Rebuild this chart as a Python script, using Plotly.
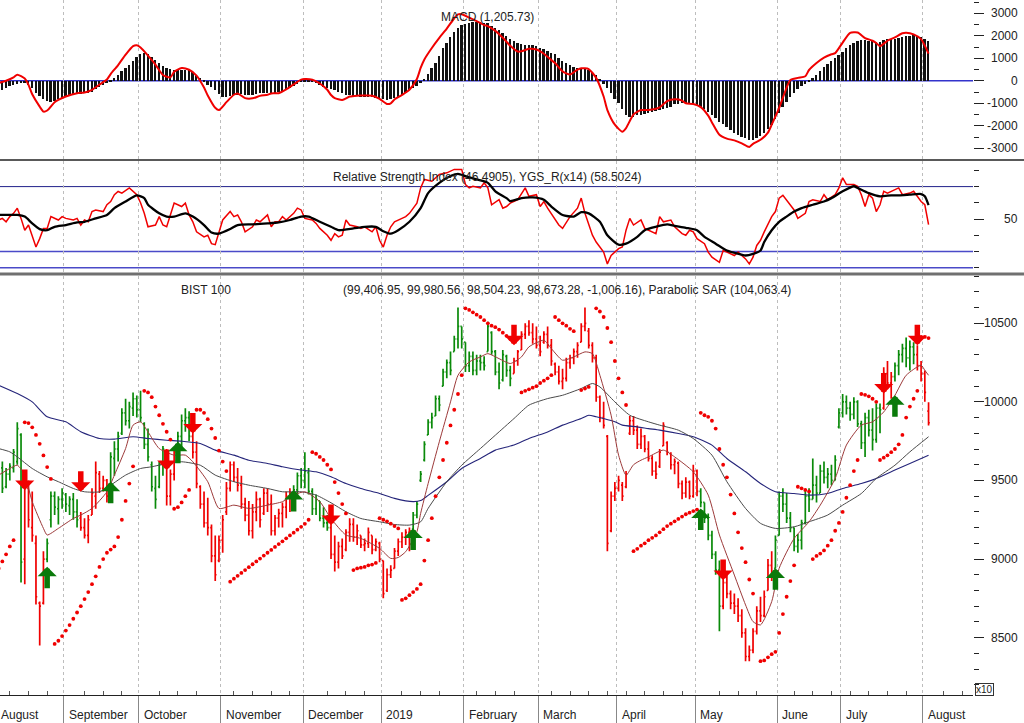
import plotly.graph_objects as go

# ---------------- data (index units = trading day number, price in x10 units) ----------------
opens = [
 9500, 9580, 9460, 9540, 9580, 9620, 9790, 9000, 9450, 9200,
 9100, 8720, 8720, 9000, 9250, 9400, 9320, 9380, 9410, 9340,
 9380, 9300, 9260, 9200, 9150, 9280, 9400, 9540, 9450, 9500,
 9460, 9640, 9700, 9800, 9930, 9880, 9960, 10020, 9950, 9860,
 9730, 9600, 9450, 9460, 9600, 9690, 9400, 9540, 9680, 9780,
 9880, 9900, 9780, 9680, 9460, 9350, 9230, 9200, 9020, 8990,
 9120, 9300, 9450, 9600, 9520, 9470, 9350, 9280, 9180, 9300,
 9380, 9290, 9420, 9350, 9180, 9260, 9290, 9330, 9400, 9420,
 9440, 9530, 9500, 9550, 9430, 9320, 9370, 9260, 9230, 9200,
 9030, 8980, 9080, 9060, 9170, 9220, 9140, 9150, 9090, 9100,
 9150, 9060, 9100, 8990, 8800, 8900, 8940, 9050, 9110, 9140,
 9170, 9190, 9280, 9500, 9630, 9790, 9870, 9910, 10020, 10100,
 10190, 10250, 10320, 10400, 10480, 10380, 10230, 10290, 10200, 10260,
 10250, 10320, 10440, 10320, 10190, 10140, 10290, 10200, 10180, 10260,
 10330, 10430, 10480, 10440, 10400, 10360, 10380, 10430, 10360, 10240,
 10190, 10130, 10150, 10250, 10280, 10320, 10380, 10480, 10450, 10360,
 10280, 10030, 9900, 9780, 9180, 9400, 9450, 9470, 9460, 9800,
 9880, 9820, 9730, 9780, 9700, 9640, 9560, 9590, 9720, 9740,
 9670, 9600, 9610, 9480, 9420, 9490, 9400, 9560, 9430, 9360,
 9260, 9150, 9030, 8930, 8700, 8850, 8780, 8720, 8700, 8640,
 8530, 8380, 8420, 8540, 8670, 8640, 8800, 8960, 8940, 9150,
 9400, 9350, 9260, 9200, 9080, 9120, 9230, 9400, 9380, 9470,
 9420, 9560, 9520, 9540, 9500, 9840, 9930, 10000, 9960, 9920,
 10000, 9860, 9740, 9900, 9820, 9760, 9960, 9960, 10180, 10120,
 10160, 10230, 10300, 10340, 10280, 10350, 10300, 10230, 10180, 9941,
]
highs = [
 9610, 9620, 9580, 9610, 9700, 9870, 9800, 9530, 9500, 9430,
 9150, 8730, 9050, 9130, 9430, 9430, 9400, 9450, 9420, 9400,
 9420, 9380, 9300, 9260, 9280, 9450, 9620, 9560, 9530, 9510,
 9680, 9750, 9810, 9960, 10020, 10000, 10060, 10040, 10070, 9870,
 9830, 9620, 9530, 9620, 9720, 9700, 9570, 9700, 9810, 9920,
 9960, 9940, 9810, 9750, 9470, 9430, 9390, 9220, 9150, 9150,
 9280, 9490, 9620, 9620, 9580, 9530, 9390, 9370, 9350, 9430,
 9390, 9450, 9450, 9410, 9280, 9320, 9360, 9430, 9450, 9470,
 9550, 9580, 9680, 9580, 9450, 9410, 9370, 9330, 9280, 9240,
 9150, 9110, 9130, 9190, 9260, 9260, 9220, 9150, 9130, 9200,
 9150, 9130, 9110, 8990, 8940, 8960, 9070, 9130, 9170, 9190,
 9200, 9300, 9370, 9560, 9750, 9890, 9930, 10040, 10040, 10210,
 10270, 10320, 10420, 10600, 10480, 10380, 10320, 10320, 10300, 10300,
 10290, 10510, 10450, 10330, 10250, 10330, 10300, 10230, 10280, 10330,
 10450, 10500, 10520, 10500, 10480, 10420, 10450, 10480, 10400, 10250,
 10230, 10210, 10280, 10300, 10340, 10380, 10500, 10600, 10470, 10380,
 10300, 10040, 10000, 9790, 9430, 9490, 9530, 9490, 9560, 9910,
 9910, 9850, 9830, 9790, 9750, 9660, 9620, 9700, 9870, 9750,
 9680, 9640, 9620, 9500, 9520, 9500, 9600, 9570, 9450, 9360,
 9290, 9180, 9050, 8990, 8880, 8900, 8800, 8780, 8750, 8680,
 8560, 8450, 8560, 8700, 8760, 8800, 9000, 9050, 9150, 9430,
 9450, 9420, 9300, 9200, 9160, 9250, 9440, 9450, 9640, 9530,
 9600, 9620, 9580, 9600, 9660, 9960, 10050, 10040, 10000, 10030,
 10010, 9880, 9930, 9950, 9960, 9990, 9990, 10220, 10260, 10190,
 10250, 10330, 10370, 10410, 10390, 10380, 10360, 10260, 10200, 9998,
]
lows = [
 9480, 9420, 9450, 9500, 9550, 9600, 8850, 8840, 9200, 9110,
 8710, 8450, 8710, 8980, 9200, 9280, 9220, 9320, 9300, 9280,
 9250, 9200, 9180, 9130, 9100, 9280, 9320, 9420, 9430, 9360,
 9450, 9530, 9620, 9790, 9850, 9830, 9910, 9900, 9870, 9700,
 9620, 9430, 9320, 9450, 9530, 9340, 9340, 9500, 9620, 9700,
 9810, 9750, 9640, 9450, 9320, 9200, 9150, 8980, 8860, 8980,
 9040, 9280, 9430, 9490, 9430, 9320, 9240, 9150, 9130, 9240,
 9200, 9280, 9300, 9150, 9150, 9200, 9200, 9260, 9300, 9320,
 9400, 9450, 9450, 9410, 9280, 9280, 9240, 9200, 9180, 9000,
 8920, 8940, 9000, 9050, 9110, 9110, 9090, 9070, 9050, 9070,
 9030, 9050, 8980, 8750, 8790, 8880, 8940, 9020, 9070, 9090,
 9050, 9190, 9260, 9490, 9620, 9790, 9830, 9910, 9940, 10100,
 10150, 10170, 10320, 10340, 10340, 10190, 10190, 10170, 10170, 10200,
 10200, 10320, 10300, 10170, 10080, 10130, 10160, 10100, 10180, 10230,
 10330, 10400, 10420, 10370, 10340, 10290, 10370, 10340, 10230, 10170,
 10110, 10080, 10130, 10210, 10240, 10280, 10380, 10450, 10340, 10250,
 10000, 9870, 9830, 9050, 9170, 9370, 9430, 9370, 9450, 9790,
 9790, 9700, 9700, 9680, 9620, 9530, 9510, 9580, 9720, 9660,
 9570, 9540, 9450, 9380, 9390, 9380, 9390, 9400, 9330, 9230,
 9120, 9000, 8900, 8540, 8680, 8750, 8680, 8650, 8600, 8500,
 8350, 8350, 8400, 8520, 8600, 8630, 8800, 8860, 8940, 9150,
 9300, 9230, 9170, 9050, 9040, 9060, 9220, 9300, 9380, 9360,
 9420, 9480, 9450, 9470, 9500, 9830, 9900, 9920, 9880, 9890,
 9840, 9700, 9650, 9780, 9690, 9740, 9800, 9950, 10080, 10020,
 10130, 10170, 10250, 10220, 10200, 10240, 10200, 10130, 10000, 9850,
]
closes = [
 9580, 9450, 9540, 9590, 9680, 9830, 8980, 9450, 9250, 9150,
 8760, 8700, 9000, 9100, 9400, 9330, 9380, 9420, 9350, 9380,
 9300, 9250, 9200, 9150, 9250, 9420, 9550, 9450, 9500, 9400,
 9650, 9700, 9780, 9930, 9880, 9970, 10020, 9950, 9900, 9730,
 9650, 9460, 9380, 9600, 9700, 9400, 9540, 9680, 9780, 9880,
 9900, 9780, 9680, 9480, 9350, 9230, 9200, 9020, 8900, 9120,
 9250, 9450, 9600, 9520, 9470, 9350, 9280, 9180, 9300, 9380,
 9250, 9420, 9350, 9180, 9260, 9290, 9330, 9400, 9420, 9440,
 9530, 9500, 9560, 9430, 9320, 9380, 9260, 9230, 9200, 9030,
 8980, 9080, 9020, 9170, 9220, 9140, 9180, 9090, 9100, 9170,
 9060, 9110, 9000, 8780, 8900, 8930, 9050, 9110, 9140, 9170,
 9180, 9280, 9350, 9540, 9730, 9870, 9900, 10020, 9980, 10190,
 10250, 10200, 10400, 10480, 10400, 10230, 10290, 10200, 10260, 10250,
 10230, 10480, 10320, 10190, 10120, 10300, 10200, 10150, 10260, 10320,
 10430, 10480, 10440, 10400, 10360, 10320, 10430, 10360, 10260, 10190,
 10130, 10150, 10250, 10280, 10320, 10360, 10480, 10500, 10360, 10280,
 10030, 9900, 9850, 9100, 9400, 9450, 9500, 9400, 9540, 9880,
 9820, 9730, 9780, 9700, 9640, 9560, 9540, 9680, 9850, 9680,
 9600, 9620, 9480, 9420, 9490, 9400, 9560, 9430, 9360, 9260,
 9150, 9030, 8930, 8700, 8850, 8780, 8720, 8700, 8640, 8530,
 8380, 8420, 8540, 8670, 8640, 8760, 8960, 8900, 9120, 9400,
 9350, 9260, 9200, 9080, 9120, 9230, 9400, 9380, 9470, 9420,
 9560, 9520, 9540, 9500, 9630, 9930, 10000, 9960, 9920, 10000,
 9860, 9740, 9900, 9820, 9760, 9960, 9950, 10180, 10120, 10160,
 10230, 10300, 10340, 10280, 10350, 10300, 10230, 10180, 10060, 9867,
]
days = list(range(len(closes)))

# signal arrows: (day, price at arrow tip)
buy_signals = [(13, 8951), (30, 9492), (48, 9746), (79, 9439), (111, 9195),
               (188, 9322), (208, 8941), (240, 10042)]
sell_signals = [(7, 9439), (22, 9428), (45, 9566), (52, 9799), (89, 9216),
                (138, 10360), (194, 8866), (237, 10053), (246, 10360)]

N = None
sar = [
 8940, 8985, 9030, 9080, 9120, N, N, 9870, 9865, 9838,
 9790, 9733, 9659, 9585, 9510, 8460, 8480, 8510, 8545, 8580,
 8620, 8660, 8700, 8745, 8790, 8840, 8890, 8950, 9000, 9040,
 9060, 9080, 9140, 9250, 9370, 9480, 9590, N, N, 10070,
 10060, 10030, 9970, 9915, 9860, 9810, 9760, 9320, 9330, 9360,
 9400, 9440, N, 9950, 9950, 9930, 9890, 9830, 9770, 9690,
 9620, 9560, 8856, 8875, 8893, 8912, 8930, 8948, 8967, 8985,
 9003, 9022, 9040, 9058, 9077, 9095, 9113, 9132, 9150, 9168,
 9187, 9205, 9224, 9250, 9680, 9670, 9650, 9630, 9600, 9570,
 9490, 9420, 9350, 9290, N, 8930, 8940, 8945, 8950, 8960,
 8965, 8975, 9260, 9250, 9240, 9225, 9210, 9195, 8740, 8750,
 8770, 8790, 8810, 8840, 8990, 9120, 9260, 9400, 9520, 9630,
 9740, 9850, 9950, 10050, 10170, 10595, 10585, 10570, 10555, 10540,
 10520, 10500, 10485, 10475, 10460, 10440, 10420, 10400, N, N,
 10060, 10070, 10080, 10090, 10100, 10120, 10135, 10150, 10170, 10540,
 10520, 10500, 10485, 10465, 10450, N, 10075, 10085, 10095, N,
 10595, 10575, 10540, 10470, 10380, 10260, 10150, 10060, 9980, N,
 9050, 9065, 9085, 9100, 9120, 9135, 9150, 9170, 9190, 9210,
 9225, 9240, 9255, 9270, 9285, 9295, 9305, 9315, 9930, 9915,
 9905, 9880, 9830, 9700, 9600, 9520, 9410, 9290, 9170, 9070,
 8980, 8870, 8780, N, 8350, 8355, 8375, 8395, 8410, 8530,
 8650, 8760, 8860, 8960, 9460, 9450, 9440, 9430, 9000, 9020,
 9035, 9055, 9085, 9120, 9180, 9230, 9300, 9390, 9470, 9560,
 9630, 10050, 10045, 10035, 10020, 10000, 9630, 9645, 9660, 9680,
 9700, 9730, 9790, 9900, 9970, 10020, 10070, 10413, 10413, 10406,
]

ma_short = [(0,9534),(3,9576),(5,9597),(7,9534),(9,9365),(12,9195),(13,9153),(16,9195),(20,9258),
 (22,9280),(25,9322),(29,9428),(31,9534),(34,9703),(36,9852),(38,9873),(40,9809),(43,9703),
 (47,9661),(50,9661),(52,9619),(56,9492),(59,9322),(63,9343),(67,9322),(72,9343),(76,9365),
 (79,9407),(82,9428),(86,9365),(89,9258),(93,9153),(97,9131),(102,9068),(105,9004),(107,9010),
 (109,9047),(112,9174),(113,9290),(115,9480),(118,9746),(121,10000),(123,10169),(126,10254),
 (129,10286),(131,10307),(134,10275),(137,10244),(140,10286),(142,10350),(146,10392),
 (148,10339),(151,10265),(154,10286),(157,10318),(159,10307),(161,10169),(164,9915),
 (166,9661),(168,9534),(170,9600),(172,9629),(174,9650),(178,9693),(181,9650),(186,9555),
 (190,9407),(193,9153),(197,8898),(200,8708),(202,8602),(204,8581),(207,8729),(209,8941),
 (213,9131),(217,9237),(220,9343),(224,9513),(227,9725),(231,9852),(234,9873),(237,9936),
 (240,10042),(243,10169),(247,10233),(248,10201),(249,10169)]
ma_mid = [(0,9703),(3,9682),(5,9650),(9,9576),(13,9523),(16,9492),(20,9449),(23,9428),(27,9428),
 (30,9470),(34,9534),(38,9576),(41,9587),(45,9608),(49,9619),(54,9597),(58,9534),(63,9492),
 (67,9470),(72,9449),(76,9428),(81,9428),(85,9407),(89,9358),(93,9301),(97,9258),(102,9237),
 (106,9220),(110,9216),(113,9237),(115,9322),(120,9492),(124,9597),(129,9703),(133,9788),
 (138,9894),(142,9979),(147,10021),(151,10042),(156,10085),(159,10117),(161,10095),
 (165,10000),(169,9915),(174,9873),(177,9852),(182,9820),(186,9767),(191,9661),(195,9492),
 (200,9322),(204,9227),(208,9195),(213,9205),(217,9237),(222,9280),(226,9343),(231,9417),
 (235,9513),(240,9597),(244,9682),(249,9778)]
ma_long = [(0,10106),(5,10053),(9,10000),(13,9905),(18,9873),(22,9810),(27,9767),(31,9763),
 (36,9778),(40,9767),(45,9756),(49,9750),(54,9735),(58,9693),(63,9661),(67,9629),(72,9608),
 (76,9587),(81,9566),(85,9555),(89,9523),(93,9481),(97,9449),(102,9417),(106,9386),(111,9365),
 (113,9372),(115,9405),(120,9492),(124,9576),(129,9640),(133,9693),(138,9725),(142,9767),
 (147,9809),(151,9852),(156,9894),(158,9915),(160,9905),(165,9873),(167,9852),(171,9841),
 (174,9830),(177,9820),(182,9799),(186,9778),(191,9725),(195,9640),(200,9555),(204,9481),
 (208,9428),(213,9417),(217,9407),(222,9417),(226,9449),(231,9481),(235,9513),(240,9566),
 (244,9608),(249,9661)]

macd_signal = [
 -480, -400, -330, -250, -180, -120, -100, -100, -180, -320,
 -520, -680, -820, -900, -920, -880, -820, -750, -700, -650,
 -620, -600, -580, -560, -540, -500, -360, -260, -170, -90,
 -30, 120, 270, 420, 570, 720, 880, 1060, 1200, 1240,
 1170, 1050, 940, 800, 680, 570, 520, 490, 495, 500,
 495, 480, 380, 250, 130, -30, -180, -290, -400, -600,
 -700, -730, -680, -630, -610, -600, -620, -630, -630, -600,
 -560, -550, -550, -550, -550, -510, -480, -390, -320, -230,
 -150, -75, -40, -30, -70, -110, -200, -260, -330, -370,
 -430, -500, -560, -610, -630, -660, -690, -700, -700, -700,
 -730, -770, -800, -830, -850, -820, -780, -720, -630, -540,
 -430, -330, -230, -100, 80, 320, 560, 790, 1120, 1440,
 1690, 1930, 2150, 2330, 2460, 2530, 2580, 2610, 2615, 2615,
 2590, 2550, 2450, 2360, 2240, 2130, 2000, 1880, 1790, 1700,
 1620, 1610, 1610, 1570, 1540, 1480, 1420, 1340, 1250, 1170,
 1000, 870, 780, 700, 600, 570, 565, 530, 490, 380,
 260, 60, -120, -330, -550, -800, -1000, -1250, -1520, -1590,
 -1590, -1540, -1510, -1480, -1450, -1400, -1350, -1300, -1250, -1190,
 -1150, -1050, -1010, -1000, -1000, -1010, -1030, -1080, -1150, -1250,
 -1370, -1500, -1660, -1820, -1940, -2050, -2180, -2300, -2400, -2480,
 -2560, -2610, -2640, -2560, -2470, -2330, -2150, -1950, -1700, -1450,
 -1150, -920, -720, -520, -350, -220, -130, -20, 120, 270,
 420, 600, 760, 880, 1000, 1140, 1300, 1470, 1580, 1690,
 1780, 1810, 1800, 1780, 1760, 1740, 1720, 1800, 1840, 1860,
 1880, 1910, 1950, 1985, 2000, 2015, 1980, 1930, 1850, 1760,
]
macd_line = [(0,-100),(2,0),(4,150),(5,270),(7,100),(8,-180),(9,-600),(11,-1150),(12,-1370),
 (13,-1320),(15,-950),(16,-850),(18,-700),(21,-550),(23,-520),(25,-400),(27,-170),(29,60),
 (30,300),(32,700),(34,1160),(36,1540),(37,1580),(38,1480),(40,1120),(42,720),(44,260),
 (46,150),(47,400),(49,570),(51,490),(53,230),(55,-300),(56,-650),(58,-1200),(59,-1300),
 (61,-950),(63,-620),(64,-560),(66,-770),(68,-780),(70,-670),(72,-620),(73,-560),(75,-550),
 (77,-380),(79,-160),(81,50),(82,75),(84,45),(86,-120),(88,-400),(89,-630),(90,-770),
 (92,-850),(94,-700),(96,-660),(97,-657),(100,-660),(102,-800),(104,-1030),(105,-1000),
 (106,-830),(108,-630),(110,-400),(112,80),(113,570),(114,950),(116,1460),(118,1910),
 (120,2320),(122,2780),(123,2950),(124,2960),(126,2810),(128,2650),(130,2480),(131,2430),
 (133,2220),(135,1910),(137,1560),(139,1300),(140,1310),(142,1420),(144,1390),(146,1200),
 (148,920),(149,790),(151,420),(153,280),(155,500),(156,560),(158,520),(160,130),(162,-700),
 (163,-1300),(165,-1950),(167,-2260),(168,-2100),(170,-1500),(172,-1300),(174,-1300),
 (177,-1180),(179,-900),(181,-820),(183,-880),(184,-1000),(186,-1030),(188,-1170),
 (190,-1550),(191,-1850),(193,-2400),(195,-2570),(197,-2650),(199,-2780),(201,-2940),
 (202,-2800),(204,-2620),(206,-2300),(207,-1950),(209,-1200),(211,-300),(212,40),(214,130),
 (216,200),(217,480),(219,790),(221,1030),(223,1180),(224,1230),(226,1700),(228,2130),
 (230,2150),(232,1900),(234,1780),(235,1680),(236,1540),(238,1780),(240,1930),(242,2110),
 (243,2135),(245,2060),(247,1850),(249,1206)]

rsi_line = [(0,49.4),(1,50.4),(2,48.3),(3,51.5),(4,53.5),(5,56.7),(6,50.4),(7,43.1),(8,46.3),
 (9,40.0),(10,32.7),(11,37.9),(12,44.2),(13,44.2),(14,51.5),(16,49.4),(17,51.5),(18,50.4),
 (20,49.4),(21,50.4),(22,46.3),(23,49.4),(24,48.3),(25,54.6),(26,55.6),(28,54.6),(29,58.8),
 (30,60.8),(31,65.0),(32,67.0),(33,66.0),(35,69.2),(36,67.0),(37,65.0),(38,60.0),(39,53.5),
 (40,45.2),(42,46.3),(43,51.5),(44,46.3),(45,45.2),(46,52.5),(47,59.8),(49,57.7),(50,59.8),
 (51,52.5),(52,48.3),(53,42.1),(55,39.0),(56,40.0),(57,34.8),(58,34.2),(59,42.1),(60,49.4),
 (62,54.6),(63,51.5),(64,52.5),(65,48.3),(66,42.1),(68,45.2),(69,49.4),(70,48.3),(72,52.5),
 (73,45.2),(74,48.3),(75,48.3),(76,51.5),(77,49.4),(79,53.5),(80,56.7),(81,55.6),(82,50.4),
 (84,49.4),(85,47.3),(86,44.2),(88,40.0),(89,36.9),(90,41.0),(91,39.0),(92,40.0),(93,49.4),
 (94,46.3),(96,45.2),(97,44.2),(98,45.2),(100,42.1),(101,45.2),(102,36.9),(103,32.7),
 (104,40.0),(105,45.2),(106,48.3),(108,50.4),(109,51.5),(110,53.5),(112,59.8),(113,69.2),
 (114,74.4),(116,73.3),(117,75.4),(118,77.5),(120,78.5),(121,79.6),(122,80.6),(124,80.6),
 (125,71.3),(126,69.2),(127,70.2),(129,69.2),(130,72.3),(131,69.2),(132,58.8),(134,61.9),
 (135,56.7),(136,57.7),(137,59.8),(139,61.9),(140,66.0),(141,69.2),(142,64.0),(144,65.0),
 (145,57.7),(146,60.8),(147,56.7),(149,49.4),(150,46.3),(151,44.2),(152,48.3),(153,51.5),
 (155,56.7),(156,62.9),(157,53.5),(159,40.0),(160,35.8),(162,29.6),(163,22.3),(164,27.5),
 (166,31.7),(167,32.7),(168,43.1),(169,50.4),(170,46.3),(172,49.4),(173,44.2),(174,43.1),
 (176,41.0),(177,51.5),(178,48.3),(180,49.4),(181,45.2),(183,41.0),(184,40.0),(185,43.1),
 (186,42.1),(187,37.9),(189,34.8),(190,29.6),(191,26.5),(193,23.3),(194,30.6),(195,29.6),
 (197,27.5),(198,29.6),(200,25.4),(201,22.3),(202,26.5),(203,33.7),(204,36.9),(205,42.1),
 (207,51.5),(208,54.6),(209,62.9),(210,64.6),(212,58.8),(213,55.6),(214,50.4),(216,53.5),
 (217,60.8),(218,61.9),(220,60.8),(221,65.0),(222,61.9),(224,65.0),(225,69.2),(226,75.4),
 (227,71.3),(229,71.3),(230,70.2),(231,65.0),(232,57.7),(233,65.0),(234,62.9),(235,54.6),
 (236,58.8),(237,67.1),(238,66.0),(240,68.1),(241,69.2),(242,65.0),(244,66.0),(245,67.1),
 (246,64.0),(247,60.8),(248,58.8),(249,46.5)]
rsi_smooth = [(0,52.5),(3,52.5),(5,52.5),(7,51.5),(9,47.3),(11,43.8),(13,43.1),(15,45.2),
 (18,46.3),(21,47.9),(23,48.3),(26,50.4),(29,52.5),(31,56.7),(34,60.8),(37,64.6),(39,62.9),
 (40,58.8),(43,53.5),(45,51.5),(47,51.5),(50,53.5),(52,51.5),(55,46.3),(57,41.7),(59,41.0),
 (62,43.8),(64,46.3),(68,46.7),(72,47.3),(75,47.9),(78,49.4),(81,51.5),(83,51.5),(86,48.3),
 (89,45.2),(91,43.1),(95,44.2),(98,45.2),(101,45.2),(103,42.5),(105,41.0),(107,43.1),
 (110,48.3),(113,56.7),(115,66.0),(118,72.3),(121,76.5),(123,77.9),(125,76.5),(128,74.4),
 (131,72.3),(133,67.1),(136,62.9),(137,61.0),(140,62.9),(143,63.3),(146,61.9),(148,57.7),
 (151,52.5),(154,51.5),(156,54.2),(158,53.5),(161,48.3),(163,40.0),(166,34.2),(168,34.8),
 (171,39.0),(173,43.1),(176,45.2),(179,46.7),(181,45.8),(184,44.6),(187,43.1),(189,39.0),
 (192,34.8),(195,30.6),(197,29.2),(200,27.5),(202,28.5),(204,30.6),(205,35.8),(207,43.1),
 (209,48.3),(211,51.5),(213,54.6),(215,56.7),(218,58.8),(221,60.8),(223,62.9),(226,67.1),
 (229,70.2),(230,69.2),(233,66.0),(236,64.0),(239,64.6),(241,64.6),(244,65.0),(247,65.4),
 (248,64.0),(249,58.5)]

rsi_levels = [70, 30, 20]

month_names = ["August", "September", "October", "November", "December", "2019", "February",
               "March", "April", "May", "June", "July", "August"]
month_starts = [-0.5, 17.5, 37.5, 59.5, 81.5, 102.5, 124.5, 144.5, 165.5, 186.5, 208.5, 225.5, 247.5]

price_ticks = [8500, 9000, 9500, 10000, 10500]
macd_ticks = [-3000, -2000, -1000, 0, 1000, 2000, 3000]

# ---------------- figure ----------------
W, H = 1024, 723
ML, MR, MT, MB = 0, 51, 0, 28
PW, PH = W - ML - MR, H - MT - MB
X_RANGE = [0.37, 260.9]
def pyf(y):  # pixel row -> paper
    return 1 - y / PH
def pxf(x):
    return x / PW

FONT = "Liberation Sans, Arial, sans-serif"
GREEN = "#0a8a0a"
RED = "#f00000"
TXT = dict(size=12, color="#222")

signal_at = {d: "buy" for d, _ in buy_signals}
signal_at.update({d: "sell" for d, _ in sell_signals})
state, trend = "buy", []
for d in days:
    state = signal_at.get(d, state)
    trend.append(state)

fig = go.Figure()

for name, col in (("buy", GREEN), ("sell", RED)):
    idx = [d for d in days if trend[d] == name]
    fig.add_trace(go.Ohlc(
        x=idx, open=[opens[i] for i in idx], high=[highs[i] for i in idx],
        low=[lows[i] for i in idx], close=[closes[i] for i in idx],
        increasing=dict(line=dict(color=col, width=1.7)),
        decreasing=dict(line=dict(color=col, width=1.7)),
        tickwidth=0.35, hoverinfo="skip", showlegend=False, xaxis="x", yaxis="y"))

def unzip(pts):
    return [p[0] for p in pts], [p[1] for p in pts]

for pts, col, w in ((ma_long, "#25257a", 1.1), (ma_mid, "#4a4a4a", 1.0), (ma_short, "#9c3a3a", 1.0)):
    xs, ys = unzip(pts)
    fig.add_trace(go.Scatter(x=xs, y=ys, mode="lines", line=dict(color=col, width=w, shape="spline", smoothing=0.6),
                             hoverinfo="skip", showlegend=False, xaxis="x", yaxis="y"))

fig.add_trace(go.Scatter(x=days, y=sar, mode="markers", marker=dict(color=RED, size=3.8),
                         hoverinfo="skip", showlegend=False, xaxis="x", yaxis="y"))

# MACD
fig.add_trace(go.Bar(x=days, y=macd_signal, width=0.5, marker=dict(color="#111111", line=dict(width=0)),
                     hoverinfo="skip", showlegend=False, xaxis="x3", yaxis="y3"))
xs, ys = unzip(macd_line)
fig.add_trace(go.Scatter(x=xs, y=ys, mode="lines", line=dict(color=RED, width=2, shape="spline", smoothing=0.6),
                         hoverinfo="skip", showlegend=False, xaxis="x3", yaxis="y3"))

# RSI
xs, ys = unzip(rsi_line)
fig.add_trace(go.Scatter(x=xs, y=ys, mode="lines", line=dict(color=RED, width=1.5),
                         hoverinfo="skip", showlegend=False, xaxis="x2", yaxis="y2"))
xs, ys = unzip(rsi_smooth)
fig.add_trace(go.Scatter(x=xs, y=ys, mode="lines", line=dict(color="#000000", width=2.3, shape="spline", smoothing=0.6),
                         hoverinfo="skip", showlegend=False, xaxis="x2", yaxis="y2"))

shapes = []
shapes.append(dict(type="line", xref="paper", yref="y3", x0=0, x1=1, y0=0, y1=0,
                   line=dict(color="#3333cc", width=1.5), layer="below"))
for lv, col, w in zip(rsi_levels, ["#20208a", "#4a4ac8", "#4a4ac8"], [1, 1.5, 1.5]):
    shapes.append(dict(type="line", xref="paper", yref="y2", x0=0, x1=1, y0=lv, y1=lv,
                       line=dict(color=col, width=w), layer="below"))
shapes.append(dict(type="line", xref="paper", yref="paper", x0=0, x1=W / PW, y0=pyf(160), y1=pyf(160),
                   line=dict(color="#222222", width=1.5)))
shapes.append(dict(type="line", xref="paper", yref="paper", x0=0, x1=W / PW, y0=pyf(274), y1=pyf(274),
                   line=dict(color="#707070", width=3)))

def label(text, x, y, xref="paper", yref="paper", xanchor="center", **kw):
    return dict(text=text, x=x, y=y, xref=xref, yref=yref, xanchor=xanchor, yanchor="middle",
                showarrow=False, font=kw.pop("font", TXT), **kw)

ann = []
ann.append(label("MACD (1,205.73)", pxf(487), pyf(16.5)))
ann.append(label("Relative Strength Index (46.4905), YGS_R(x14) (58.5024)", pxf(487), pyf(177)))
ann.append(label("BIST 100", pxf(206), pyf(290)))
ann.append(label("(99,406.95, 99,980.56, 98,504.23, 98,673.28, -1,006.16), Parabolic SAR (104,063.4)",
                 pxf(567), pyf(290)))
for v in price_ticks:
    ann.append(label(str(v), pxf(1020), v, yref="y", xanchor="right"))
for v in macd_ticks:
    ann.append(label(str(v), pxf(1020), v, yref="y3", xanchor="right"))
ann.append(label("50", pxf(1020), 50, yref="y2", xanchor="right"))
for name, pos in zip(month_names, month_starts):
    if pos < X_RANGE[0]:
        ann.append(label(name, 0, pyf(714.5), xanchor="left", xshift=-1))
    else:
        ann.append(label(name, pos, pyf(714.5), xref="x", xanchor="left", xshift=3))
ann.append(label("x10", pxf(984), pyf(689), font=dict(size=10, color="#222"),
                 bordercolor="#333", borderwidth=1, borderpad=0))
for d, v in sell_signals:
    ann.append(dict(x=d, y=v, xref="x", yref="y", text="", showarrow=True, ax=0, ay=-22,
                    arrowhead=1, arrowsize=0.58, arrowwidth=5.5, arrowcolor=RED, standoff=0))
for d, v in buy_signals:
    ann.append(dict(x=d, y=v, xref="x", yref="y", text="", showarrow=True, ax=0, ay=23,
                    arrowhead=1, arrowsize=0.58, arrowwidth=5.5, arrowcolor="#0a7a0a", standoff=0))

grid = dict(showgrid=True, gridcolor="#bdbdbd", griddash="dot", gridwidth=1,
            tickmode="array", tickvals=month_starts[1:], zeroline=False, automargin=False)

yax = dict(side="right", showgrid=False, zeroline=False, showline=False, ticks="outside",
           ticklen=10, tickwidth=1, tickcolor="#222", showticklabels=False, automargin=False,
           fixedrange=True)

week_ticks = [v for v in range(3, 261, 5) if min(abs(v - m) for m in month_starts) > 1.6]

fig.update_layout(
    width=W, height=H, margin=dict(l=ML, r=MR, t=MT, b=MB, pad=0),
    paper_bgcolor="white", plot_bgcolor="white", showlegend=False, hovermode=False,
    font=dict(family=FONT, size=12, color="#222"),
    bargap=0,
    xaxis=dict(**grid, domain=[0, 1], range=X_RANGE, anchor="y", ticks="outside", ticklen=28,
               tickcolor="#888", showticklabels=False, showline=True, linecolor="#222", linewidth=1,
               rangeslider=dict(visible=False),
               minor=dict(tickmode="array", tickvals=week_ticks, ticks="inside",
                          ticklen=4, tickcolor="#555", showgrid=False)),
    xaxis2=dict(**grid, matches="x", anchor="y2", showticklabels=False, ticks="", showline=False),
    xaxis3=dict(**grid, matches="x", anchor="y3", showticklabels=False, ticks="", showline=False),
    yaxis=dict(**yax, domain=[0, pyf(275.5)], range=[8135, 10804], tickvals=price_ticks,
               minor=dict(tickmode="array", tickvals=[v for v in range(8200, 10801, 100) if v % 500],
                          ticks="outside", ticklen=5, tickcolor="#222")),
    yaxis2=dict(**yax, domain=[pyf(273), pyf(160.5)], range=[16.7, 86.1], tickvals=[50],
                minor=dict(tickmode="array", tickvals=[20, 30, 40, 60, 70, 80],
                           ticks="outside", ticklen=5, tickcolor="#222")),
    yaxis3=dict(**yax, domain=[pyf(159.5), 1], range=[-3498, 3591], tickvals=macd_ticks,
                minor=dict(tickmode="array", tickvals=[-3500, -2500, -1500, -500, 500, 1500, 2500, 3500],
                           ticks="outside", ticklen=5, tickcolor="#222")),
    shapes=shapes, annotations=ann,
)

fig.write_html("out.html", config={"displayModeBar": False},
               post_script="document.body.style.margin='0px';document.body.style.overflow='hidden';")
